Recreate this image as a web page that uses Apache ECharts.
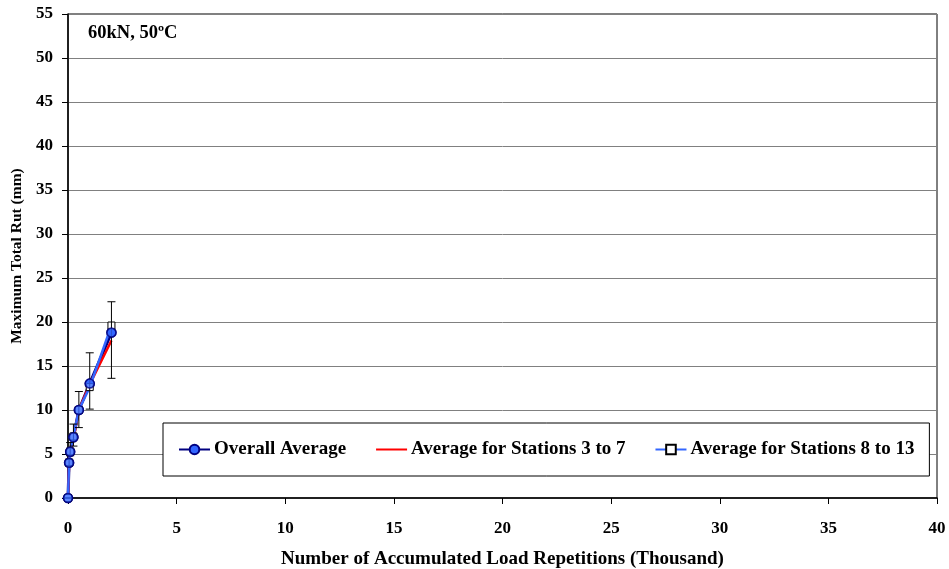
<!DOCTYPE html>
<html><head><meta charset="utf-8">
<script src="https://cdn.jsdelivr.net/npm/echarts@6/dist/echarts.min.js"></script>
<style>html,body{margin:0;padding:0;background:#fff}#c{width:949px;height:569px}</style>
</head><body><div id="c"></div>
<script>
const reps = [0, 0.05, 0.1, 0.25, 0.5, 1, 2];
const overall = [0, 4.0, 5.25, 6.9, 10.0, 13.0, 18.8];
const st3to7 = [0, 4.0, 5.2, 6.7, 10.0, 12.9, 17.9];
const st8to13 = [0, 4.0, 5.3, 7.0, 10.0, 12.6, 19.6];
const errLow = [0, 3.7, 4.8, 5.9, 8.0, 10.1, 13.6];
const errHigh = [0, 4.4, 6.3, 8.4, 12.1, 16.5, 22.3];
const xTicks = [0, 5, 10, 15, 20, 25, 30, 35, 40];
const yTicks = [0, 5, 10, 15, 20, 25, 30, 35, 40, 45, 50, 55];
const names = ['Overall Average', 'Average for Stations 3 to 7', 'Average for Stations 8 to 13'];

const font = 'Liberation Serif';
const pair = (ys) => reps.map((x, i) => [x, ys[i]]);
const circleStyle = { color: '#3366ff', borderColor: '#000080', borderWidth: 1.5 };
const chart = echarts.init(document.getElementById('c'));
chart.setOption({
  animation: false,
  grid: { left: 68, right: 12, top: 14, bottom: 71, show: true, borderColor: '#000', borderWidth: 1,
          containLabel: false, outerBoundsMode: 'none' },
  xAxis: {
    type: 'value', min: xTicks[0], max: xTicks[xTicks.length - 1], interval: 5,
    name: 'Number of Accumulated Load Repetitions (Thousand)', nameLocation: 'middle', nameGap: 52,
    nameTextStyle: { fontFamily: font, fontWeight: 'bold', fontSize: 19, color: '#000' },
    axisLine: { lineStyle: { color: '#000', width: 1.5 } },
    axisTick: { length: 6, lineStyle: { color: '#000' } },
    axisLabel: { fontFamily: font, fontWeight: 'bold', fontSize: 17, color: '#000', margin: 22 },
    splitLine: { show: false }
  },
  yAxis: {
    type: 'value', min: yTicks[0], max: yTicks[yTicks.length - 1], interval: 5,
    name: 'Maximum Total Rut (mm)', nameLocation: 'middle', nameGap: 34,
    nameTextStyle: { fontFamily: font, fontWeight: 'bold', fontSize: 15.5, color: '#000' },
    axisLine: { lineStyle: { color: '#000', width: 1.5 } },
    axisTick: { length: 6, lineStyle: { color: '#000' } },
    axisLabel: { fontFamily: font, fontWeight: 'bold', fontSize: 17, color: '#000', margin: 15 },
    splitLine: { lineStyle: { color: '#808080', width: 1 } }
  },
  legend: {
    data: [
      { name: names[0] },
      { name: names[1], itemStyle: { color: 'rgba(0,0,0,0)', borderColor: 'rgba(0,0,0,0)', borderWidth: 0 } },
      { name: names[2] }
    ],
    left: 163, top: 423, orient: 'horizontal',
    backgroundColor: '#fff', borderColor: '#000', borderWidth: 1,
    padding: [17, 15, 17, 15], itemGap: 29, itemWidth: 31, itemHeight: 12,
    textStyle: { fontFamily: font, fontWeight: 'bold', fontSize: 19, color: '#000', padding: [0, 0, 0, -1] }
  },
  graphic: [{
    type: 'text', left: 88, top: 24,
    style: { text: '60kN, 50ºC', font: 'bold 18.5px "Liberation Serif"', fill: '#000' }
  }],
  series: [
    {
      name: names[0], type: 'line', data: pair(overall), z: 2,
      symbol: 'circle', symbolSize: 9,
      lineStyle: { color: '#000080', width: 3 },
      itemStyle: circleStyle
    },
    {
      name: names[1], type: 'line', data: pair(st3to7), z: 3,
      symbol: 'none', lineStyle: { color: '#ff0000', width: 2.5 },
      itemStyle: { color: '#ff0000' }
    },
    {
      name: names[2], type: 'line', data: pair(st8to13), z: 4,
      symbol: 'rect', symbolSize: 7,
      lineStyle: { color: '#3366ff', width: 2.5 },
      itemStyle: { color: '#ffffff', borderColor: '#000', borderWidth: 1 }
    },
    {
      type: 'scatter', name: 'overallMarkers', data: pair(overall), z: 6, silent: true,
      symbol: 'circle', symbolSize: 9, itemStyle: circleStyle
    },
    {
      type: 'custom', name: 'err', z: 5, silent: true,
      data: reps.map((x, i) => [x, errLow[i], errHigh[i]]),
      renderItem: function (params, api) {
        const x = api.value(0);
        const lo = api.coord([x, api.value(1)]);
        const hi = api.coord([x, api.value(2)]);
        const w = 4;
        const st = { stroke: '#000', lineWidth: 1 };
        return {
          type: 'group', children: [
            { type: 'line', shape: { x1: lo[0], y1: lo[1], x2: hi[0], y2: hi[1] }, style: st },
            { type: 'line', shape: { x1: lo[0] - w, y1: lo[1], x2: lo[0] + w, y2: lo[1] }, style: st },
            { type: 'line', shape: { x1: hi[0] - w, y1: hi[1], x2: hi[0] + w, y2: hi[1] }, style: st }
          ]
        };
      }
    }
  ]
});
</script></body></html>
